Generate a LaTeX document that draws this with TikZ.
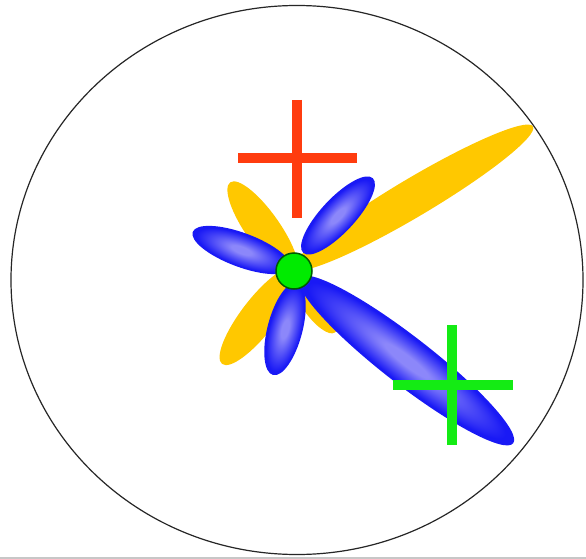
\documentclass[tikz,border=0pt]{standalone}
\definecolor{lobeyellow}{RGB}{255,200,0}
\definecolor{lobelight}{RGB}{140,135,250}
\definecolor{lobeblue}{RGB}{25,25,245}
\definecolor{crossred}{RGB}{255,60,15}
\definecolor{crossgreen}{RGB}{20,235,20}
\definecolor{hubgreen}{RGB}{0,235,0}
\definecolor{hubedge}{RGB}{0,90,0}
\pgfdeclareradialshading{lobeshade}{\pgfpointorigin}{color(0bp)=(lobelight); color(5bp)=(lobelight); color(23bp)=(lobeblue); color(25bp)=(lobeblue); color(50bp)=(lobeblue)}
\tikzset{
  yellowlobe/.style={fill=lobeyellow, draw=none},
  bluelobe/.style={shading=lobeshade, draw=none},
  crossbar/.style={line width=10pt, line cap=butt},
  rim/.style={draw=black!85, line width=1.2pt},
}
% \mylobe{style}{cx}{cy}{angle}{semi-major}{semi-minor}
\newcommand\mylobe[6]{%
  \begin{scope}[transform canvas={shift={(#2,#3)},rotate=#4}]
    \path[#1] (0,0) ellipse [x radius=#5pt, y radius=#6pt];
  \end{scope}}
\begin{document}
\begin{tikzpicture}[x=1pt,y=-1pt]
  \useasboundingbox (0,0) rectangle (586,559);
  \fill[white] (0,0) rectangle (586,559);
  % outer circle
  \draw[rim] (297,280) ellipse [x radius=286pt, y radius=274.5pt];
  \draw[black!22, line width=2pt] (0,558) -- (586,558);
  % yellow lobes
  \mylobe{yellowlobe}{413.5}{197.5}{30.75}{139}{19}
  \mylobe{yellowlobe}{263}{229}{125.1}{57}{17}
  \mylobe{yellowlobe}{259}{316}{52.4}{60.5}{17.5}
  \mylobe{yellowlobe}{314}{302}{-55.5}{37}{13}
  % blue lobes
  \mylobe{bluelobe}{241.5}{250}{159.6}{52}{17}
  \mylobe{bluelobe}{338}{215.5}{47}{51}{17}
  \mylobe{bluelobe}{285}{329}{75.4}{47.5}{17.5}
  \mylobe{bluelobe}{406.5}{360.5}{-37.8}{135}{24}
  % hub
  \node[circle, fill=hubgreen, draw=hubedge, line width=1.5pt, minimum size=36pt, inner sep=0pt] (hub) at (294,271) {};
  % red cross
  \draw[crossred, crossbar] (297,100) -- (297,218);
  \draw[crossred, crossbar] (238,158) -- (357,158);
  % green cross
  \draw[crossgreen, crossbar] (452,325) -- (452,445);
  \draw[crossgreen, crossbar] (393,385) -- (513,385);
\end{tikzpicture}
\end{document}
